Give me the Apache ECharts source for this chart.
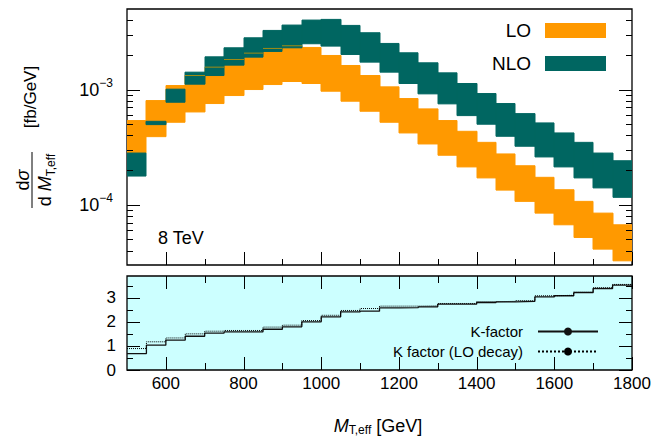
<!DOCTYPE html>
<html><head><meta charset="utf-8">
<script src="https://cdn.jsdelivr.net/npm/echarts@6/dist/echarts.min.js"></script>
<style>html,body{margin:0;padding:0;background:#fff}#c{width:655px;height:439px}</style>
</head><body><div id="c"></div>
<script>
// ---- data ----
const binEdges = [500,550,600,650,700,750,800,850,900,950,1000,1050,1100,1150,1200,1250,1300,1350,1400,1450,1500,1550,1600,1650,1700,1750,1800];
const loLow  = [2.81e-4,3.90e-4,5.20e-4,6.39e-4,7.56e-4,8.87e-4,1.000e-3,1.105e-3,1.174e-3,1.128e-3,9.67e-4,7.92e-4,6.48e-4,5.20e-4,4.20e-4,3.37e-4,2.69e-4,2.13e-4,1.71e-4,1.34e-4,1.07e-4,8.46e-5,6.70e-5,5.20e-5,4.12e-5,3.26e-5];
const loHigh = [5.38e-4,8.02e-4,1.083e-3,1.323e-3,1.564e-3,1.823e-3,2.070e-3,2.273e-3,2.398e-3,2.319e-3,1.975e-3,1.617e-3,1.323e-3,1.055e-3,8.35e-4,6.79e-4,5.38e-4,4.34e-4,3.48e-4,2.76e-4,2.18e-4,1.73e-4,1.35e-4,1.07e-4,8.46e-5,6.70e-5];
const nloLow  = [1.775e-4,4.96e-4,7.76e-4,1.113e-3,1.323e-3,1.628e-3,1.910e-3,2.140e-3,2.303e-3,2.496e-3,2.382e-3,2.015e-3,1.729e-3,1.415e-3,1.128e-3,9.17e-4,7.51e-4,5.94e-4,5.00e-4,3.93e-4,3.22e-4,2.60e-4,2.13e-4,1.71e-4,1.40e-4,1.16e-4];
const nloHigh = [2.81e-4,5.30e-4,1.007e-3,1.415e-3,1.923e-3,2.303e-3,2.813e-3,3.258e-3,3.626e-3,4.008e-3,4.062e-3,3.602e-3,3.111e-3,2.512e-3,2.084e-3,1.706e-3,1.396e-3,1.128e-3,9.23e-4,7.56e-4,6.18e-4,5.13e-4,4.20e-4,3.48e-4,2.81e-4,2.41e-4];
const kFactor       = [0.68,1.03,1.24,1.40,1.53,1.58,1.58,1.69,1.79,2.00,2.20,2.41,2.44,2.58,2.59,2.62,2.73,2.73,2.80,2.83,2.85,3.03,3.08,3.21,3.38,3.52];
const kFactorLOdecay= [0.89,1.17,1.33,1.50,1.61,1.64,1.64,1.78,1.86,2.05,2.27,2.47,2.55,2.65,2.65,2.66,2.76,2.76,2.83,2.85,2.88,3.08,3.10,3.24,3.42,3.55];
const xMajorTicks = [600,800,1000,1200,1400,1600,1800];
const xMinorTicks = [700,900,1100,1300,1500,1700];
const yMajorTicks = [1e-4,1e-3];
const yMinorTicks = [4e-5,5e-5,6e-5,7e-5,8e-5,9e-5,2e-4,3e-4,4e-4,5e-4,6e-4,7e-4,8e-4,9e-4,2e-3,3e-3,4e-3];
const kMajorTicks = [0,1,2,3];
const kMinorTicks = [0.5,1.5,2.5,3.5];

// ---- build ----
const FF = '"Liberation Sans", Arial, sans-serif';
const ORANGE = '#ff9900', TEAL = '#006661';
const X_RANGE = [500, 1800], Y_RANGE = [3e-5, 5e-3], K_RANGE = [0, 3.9];
const bandData = (lo, hi) => lo.map((v,i) => [binEdges[i], binEdges[i+1], v, hi[i]]);
const stepData = k => binEdges.map((e,i) => [e, k[Math.min(i, k.length-1)]]);

function bandRender(color){
  return function(params, api){
    const p0 = api.coord([api.value(0), api.value(3)]);
    const p1 = api.coord([api.value(1), api.value(2)]);
    const x0 = Math.round(p0[0]), x1 = Math.round(p1[0]);
    return {type:'rect', shape:{x:x0, y:p0[1], width:x1-x0, height:p1[1]-p0[1]},
            style:{fill:color, stroke:color, lineWidth:1}};
  };
}
function edgeRender(params, api){
  const i = params.dataIndex;
  const hi = api.value(3);
  const show = hi > nloLow[i] && hi < nloHigh[i];
  const p0 = api.coord([api.value(0), hi]);
  const p1 = api.coord([api.value(1), hi]);
  return {type:'line', shape:{x1:Math.round(p0[0]), y1:p0[1], x2:Math.round(p1[0]), y2:p1[1]},
          style:{stroke: show ? 'rgba(200,150,0,0.8)' : 'rgba(0,0,0,0)', lineWidth:1}};
}

// tick marks: each item [x0, x1, y0, y1] = tick value at the frame edge, placed through the axes' scales
function tickItems(dir, side, values, yr){
  return values.map(v => {
    if (dir === 'x'){ const e = side === 'bottom' ? yr[0] : yr[1]; return [v, v, e, e]; }
    const e = side === 'left' ? X_RANGE[0] : X_RANGE[1]; return [e, e, v, v];
  });
}
function tickRect(dir, side, len, p){
  if (dir === 'x'){
    const px = Math.round(p[0]);
    return side === 'bottom' ? {x:px, y:p[1]-len, width:1, height:len} : {x:px, y:p[1], width:1, height:len};
  }
  const py = Math.round(p[1]);
  return side === 'left' ? {x:p[0], y:py, width:len, height:1} : {x:p[0]-len, y:py, width:len, height:1};
}
function tickSeries(idx, dir, side, values, len, yr){
  return {name:'ticks-'+idx+'-'+dir+'-'+side+'-'+len, type:'custom', xAxisIndex:idx, yAxisIndex:idx, silent:true, clip:false, z:10,
    encode:{x:[0,1], y:[2,3]}, data:tickItems(dir, side, values, yr),
    renderItem: function(params, api){
      const p = api.coord([api.value(0), api.value(2)]);
      return {type:'rect', shape:tickRect(dir, side, len, p), style:{fill:'#000'}};
    }};
}
const TICK_SPECS = [
  [0,'x','bottom',xMajorTicks,13,Y_RANGE],[0,'x','bottom',xMinorTicks,6,Y_RANGE],
  [0,'y','left',yMajorTicks,13,Y_RANGE],[0,'y','left',yMinorTicks,6,Y_RANGE],
  [0,'y','right',yMajorTicks,13,Y_RANGE],[0,'y','right',yMinorTicks,6,Y_RANGE],
  [1,'x','bottom',xMajorTicks,13,K_RANGE],[1,'x','bottom',xMinorTicks,7,K_RANGE],
  [1,'x','top',xMajorTicks,13,K_RANGE],[1,'x','top',xMinorTicks,7,K_RANGE],
  [1,'y','left',kMajorTicks,13,K_RANGE],[1,'y','left',kMinorTicks,6,K_RANGE],
  [1,'y','right',kMajorTicks,13,K_RANGE],[1,'y','right',kMinorTicks,6,K_RANGE]
];

const noTick = {show:false};
const option = {
  animation:false,
  backgroundColor:'#fff',
  grid:[
    {left:127, top:9, width:505, height:256, show:true, borderColor:'#000', borderWidth:1.3, backgroundColor:'transparent', outerBoundsMode:'none', containLabel:false},
    {left:127, top:276, width:505, height:94, show:true, borderColor:'#000', borderWidth:1.3, backgroundColor:'#ccffff', outerBoundsMode:'none', containLabel:false}
  ],
  xAxis:[
    {type:'value', gridIndex:0, min:X_RANGE[0], max:X_RANGE[1], axisLine:{show:false}, axisTick:noTick, splitLine:{show:false}, axisLabel:{show:false}},
    {type:'value', gridIndex:1, min:X_RANGE[0], max:X_RANGE[1], axisLine:{show:false}, axisTick:noTick, splitLine:{show:false},
     axisLabel:{show:true, customValues:xMajorTicks, margin:5, fontSize:17, fontFamily:FF, color:'#000', formatter: v => String(v)}}
  ],
  yAxis:[
    {type:'log', logBase:10, gridIndex:0, min:Y_RANGE[0], max:Y_RANGE[1], axisLine:{show:false}, axisTick:noTick, splitLine:{show:false}, minorTick:{show:false},
     axisLabel:{show:true, customValues:yMajorTicks, margin:14,
      formatter: v => '{b|10}{p|\u2212' + Math.round(-Math.log10(v)) + '}',
      rich:{b:{fontSize:18, fontFamily:FF, color:'#000', lineHeight:26, verticalAlign:'middle'},
            p:{fontSize:12, fontFamily:FF, color:'#000', lineHeight:13, verticalAlign:'top'}}}},
    {type:'value', gridIndex:1, min:K_RANGE[0], max:K_RANGE[1], axisLine:{show:false}, axisTick:noTick, splitLine:{show:false},
     axisLabel:{show:true, customValues:kMajorTicks, margin:11, fontSize:17, fontFamily:FF, color:'#000'}}
  ],
  legend:[
    {data:['LO','NLO'], orient:'vertical', right:49, top:21, padding:0, itemWidth:61, itemHeight:15, itemGap:14,
     align:'right', icon:'rect', selectedMode:false,
     textStyle:{fontSize:19, fontFamily:FF, color:'#000', padding:[0,9,0,0]}},
    {data:['K-factor','K factor (LO decay)'], orient:'vertical', right:56, top:324, padding:0, itemWidth:60, itemHeight:10, itemGap:5,
     align:'right', selectedMode:false,
     textStyle:{fontSize:15, fontFamily:FF, color:'#000', padding:[0,10,0,0]}}
  ],
  series: TICK_SPECS.map(s => tickSeries.apply(null, s)).concat([
    {name:'LO', type:'custom', xAxisIndex:0, yAxisIndex:0, renderItem:bandRender(ORANGE), itemStyle:{color:ORANGE, borderWidth:0},
     encode:{x:[0,1], y:[2,3]}, data:bandData(loLow, loHigh), clip:true, z:2},
    {name:'NLO', type:'custom', xAxisIndex:0, yAxisIndex:0, renderItem:bandRender(TEAL), itemStyle:{color:TEAL, borderWidth:0},
     encode:{x:[0,1], y:[2,3]}, data:bandData(nloLow, nloHigh), clip:true, z:3},
    {name:'LO edge', type:'custom', xAxisIndex:0, yAxisIndex:0, renderItem:edgeRender,
     encode:{x:[0,1], y:[2,3]}, data:bandData(loLow, loHigh), clip:true, z:4, silent:true},
    {name:'K-factor', type:'line', xAxisIndex:1, yAxisIndex:1, step:'end', symbol:'none', showSymbol:false, data:stepData(kFactor),
     lineStyle:{color:'#111', width:1.3}, itemStyle:{color:'#111'}, z:5},
    {name:'K factor (LO decay)', type:'line', xAxisIndex:1, yAxisIndex:1, step:'end', symbol:'none', showSymbol:false, data:stepData(kFactorLOdecay),
     lineStyle:{color:'#000', width:1, type:'dotted'}, itemStyle:{color:'#000'}, z:5}
  ]),
  graphic:[
    {id:'t8', type:'text', x:158, y:238, style:{text:'8 TeV', fontSize:18, fontFamily:FF, fill:'#000', align:'left', verticalAlign:'middle'}},
    {id:'xt', type:'text', x:378, y:426, style:{text:'{i|M}{s|T,eff}{n| [GeV]}', align:'center', verticalAlign:'middle',
      rich:{i:{fontSize:18, fontStyle:'italic', fontFamily:FF, fill:'#000', lineHeight:20, verticalAlign:'middle'},
            s:{fontSize:12, fontFamily:FF, fill:'#000', lineHeight:10, verticalAlign:'bottom'},
            n:{fontSize:18, fontFamily:FF, fill:'#000', lineHeight:20, verticalAlign:'middle'}}}},
    {id:'yu', type:'text', x:30, y:97, rotation:Math.PI/2, style:{text:'[fb/GeV]', fontSize:17, fontFamily:FF, fill:'#000', align:'center', verticalAlign:'middle'}},
    {id:'yn', type:'text', x:23, y:180, rotation:Math.PI/2, style:{text:'{n|d}{g|\u03c3}', align:'center', verticalAlign:'middle',
      rich:{n:{fontSize:18, fontFamily:FF, fill:'#000'}, g:{fontSize:18, fontStyle:'italic', fontFamily:FF, fill:'#000'}}}},
    {id:'yb', type:'line', shape:{x1:32, y1:152, x2:32, y2:208}, style:{stroke:'#000', lineWidth:1}},
    {id:'yd', type:'text', x:45, y:180, rotation:Math.PI/2, style:{text:'{n|d }{i|M}{s|T,eff}', align:'center', verticalAlign:'middle',
      rich:{n:{fontSize:18, fontFamily:FF, fill:'#000', lineHeight:24, verticalAlign:'middle'},
            i:{fontSize:18, fontStyle:'italic', fontFamily:FF, fill:'#000', lineHeight:24, verticalAlign:'middle'},
            s:{fontSize:12, fontFamily:FF, fill:'#000', lineHeight:12, verticalAlign:'bottom'}}}}
  ]
};
const chart = echarts.init(document.getElementById('c'), null, {renderer:'svg'});
try { chart.setOption(option); } catch (e) { console.error(e); }

// the same ticks again as graphic rects, positioned with the chart's own axis scales
try {
  const tickEls = [];
  let tid = 0;
  TICK_SPECS.forEach(([idx, dir, side, values, len, yr]) => {
    tickItems(dir, side, values, yr).forEach(it => {
      const p = chart.convertToPixel({xAxisIndex:idx, yAxisIndex:idx}, [it[0], it[2]]);
      if (!p || isNaN(p[0]) || isNaN(p[1])) return;
      tickEls.push({id:'tick'+(tid++), type:'rect', shape:tickRect(dir, side, len, p), style:{fill:'#000'}, z:100, silent:true});
    });
  });
  chart.setOption({graphic: tickEls});
} catch (e) { console.error(e); }
</script></body></html>
